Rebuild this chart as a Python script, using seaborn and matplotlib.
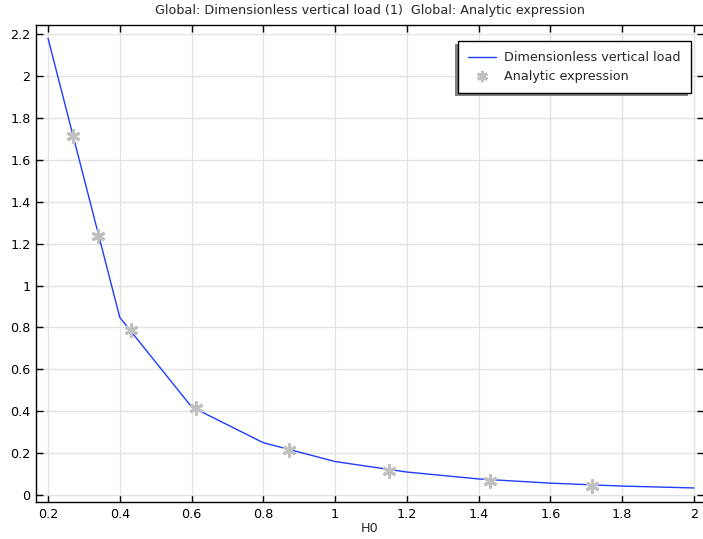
import matplotlib
matplotlib.use("Agg")
import matplotlib.pyplot as plt
import seaborn as sns
import pandas as pd
from matplotlib.patches import Rectangle

# Data
h0_line = [0.2, 0.4, 0.6, 0.8, 1.0, 1.2, 1.4, 1.6, 1.8, 2.0]
load_line = [2.18, 0.848, 0.421, 0.25, 0.16, 0.11, 0.077, 0.057, 0.043, 0.034]
h0_analytic = [0.27, 0.339, 0.431, 0.612, 0.871, 1.150, 1.432, 1.716]
load_analytic = [1.714, 1.236, 0.788, 0.415, 0.215, 0.117, 0.069, 0.044]

xticks = [0.2, 0.4, 0.6, 0.8, 1.0, 1.2, 1.4, 1.6, 1.8, 2.0]
xticklabels = ["0.2", "0.4", "0.6", "0.8", "1", "1.2", "1.4", "1.6", "1.8", "2"]
yticks = [0, 0.2, 0.4, 0.6, 0.8, 1.0, 1.2, 1.4, 1.6, 1.8, 2.0, 2.2]
yticklabels = ["0", "0.2", "0.4", "0.6", "0.8", "1", "1.2", "1.4", "1.6", "1.8", "2", "2.2"]

title = "Global: Dimensionless vertical load (1)  Global: Analytic expression"
xlabel = "H0"
line_label = "Dimensionless vertical load"
marker_label = "Analytic expression"

sns.set_style("white")
plt.rcParams['font.family'] = ['DejaVu Sans']
FS = 9.2

df_line = pd.DataFrame({"H0": h0_line, "load": load_line})
df_an = pd.DataFrame({"H0": h0_analytic, "load": load_analytic})

fig = plt.figure(figsize=(7.03, 5.39), dpi=100)
ax = fig.add_axes([36/703, 1 - 502/539, 668/703, 477/539])

sns.lineplot(data=df_line, x="H0", y="load", ax=ax, color="#1f3dff", linewidth=1.0,
             label=line_label)
sns.lineplot(data=df_an, x="H0", y="load", ax=ax, color="#c0c0c0", linestyle="none",
             marker=(6, 2, 0), markersize=10, markeredgewidth=2.2, markeredgecolor="#c0c0c0",
             label=marker_label)

ax.set_xlim(0.1666, 2.028)
ax.set_ylim(-0.033, 2.243)
ax.set_xticks(xticks)
ax.set_xticklabels(xticklabels, fontsize=FS)
ax.set_yticks(yticks)
ax.set_yticklabels(yticklabels, fontsize=FS)
ax.set_xlabel(xlabel, fontsize=FS, labelpad=1)
ax.set_ylabel("")
ax.set_title(title, fontsize=FS, pad=8)

ax.grid(True, color="#e3e3e3", linewidth=1.0)
ax.set_axisbelow(True)
for s in ax.spines.values():
    s.set_color("black")
    s.set_linewidth(1.0)
ax.tick_params(direction="in", length=5, width=1.0, top=True, right=True,
               bottom=True, left=True, colors="black", labelcolor="black", pad=4)

leg = ax.legend(loc="upper right", bbox_to_anchor=(0.980, 0.966), fontsize=FS,
                frameon=True, fancybox=False, edgecolor="black", framealpha=1,
                borderaxespad=0, borderpad=0.8, handlelength=2.2, handletextpad=0.6,
                labelspacing=0.45, markerscale=0.8)
leg.get_frame().set_linewidth(1.0)
leg.set_zorder(5)

fig.canvas.draw()
bb = leg.get_window_extent().transformed(ax.transAxes.inverted())
dx = 3 / 668
dy = 3 / 477
shadow = Rectangle((bb.x0 - dx, bb.y0 - dy), bb.width, bb.height, transform=ax.transAxes,
                   facecolor="#808080", edgecolor="none", zorder=4)
ax.add_patch(shadow)

fig.savefig("out.png", dpi=100)
